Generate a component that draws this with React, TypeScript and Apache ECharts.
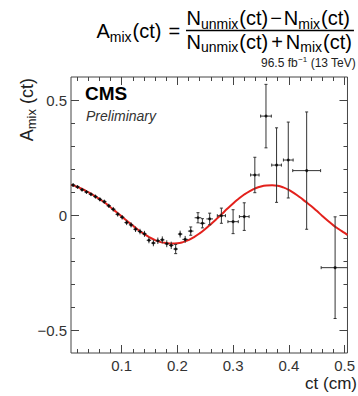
import React, { useEffect, useRef } from 'react';
import * as echarts from 'echarts';

const X_MIN = 0.0092;
const X_MAX = 0.5052;
const Y_MIN = -0.6;
const Y_MAX = 0.6;

const xMajorTicks = [0.1, 0.2, 0.3, 0.4, 0.5];
const xTickLabels = ['0.1', '0.2', '0.3', '0.4', '0.5'];
const xMinorTicks = [0.02, 0.04, 0.06, 0.08, 0.12, 0.14, 0.16, 0.18, 0.22, 0.24, 0.26, 0.28, 0.32, 0.34, 0.36, 0.38, 0.42, 0.44, 0.46, 0.48];
const yMajorTicks = [-0.5, 0, 0.5];
const yTickLabels = ['\u22120.5', '0', '0.5'];
const yMinorTicks = [-0.4, -0.3, -0.2, -0.1, 0.1, 0.2, 0.3, 0.4];

// measured asymmetry points
const ptX = [0.013, 0.021, 0.029, 0.037, 0.045, 0.053, 0.061, 0.069, 0.077, 0.085, 0.093, 0.101, 0.109, 0.117, 0.125, 0.133, 0.141, 0.149, 0.157, 0.165, 0.173, 0.181, 0.189, 0.197,
  0.205, 0.214, 0.224, 0.237, 0.245, 0.258, 0.279, 0.300, 0.320, 0.339, 0.359, 0.378, 0.399, 0.432, 0.483];
const ptY = [0.130, 0.122, 0.110, 0.100, 0.090, 0.080, 0.068, 0.058, 0.040, 0.025, 0.003, -0.010, -0.033, -0.043, -0.062, -0.072, -0.082, -0.110, -0.122, -0.112, -0.108, -0.125, -0.132, -0.148,
  -0.083, -0.106, -0.070, -0.012, -0.036, -0.017, -0.003, -0.029, -0.007, 0.174, 0.430, 0.217, 0.239, 0.193, -0.229];
const ptXErr = [0.004, 0.004, 0.004, 0.004, 0.004, 0.004, 0.004, 0.004, 0.004, 0.004, 0.004, 0.004, 0.004, 0.004, 0.004, 0.004, 0.004, 0.004, 0.004, 0.004, 0.004, 0.004, 0.004, 0.004,
  0.004, 0.005, 0.005, 0.006, 0.005, 0.006, 0.0073, 0.0093, 0.0087, 0.0076, 0.0096, 0.0087, 0.0087, 0.025, 0.025];
const ptYErr = [0.008, 0.008, 0.008, 0.008, 0.008, 0.009, 0.009, 0.009, 0.009, 0.010, 0.010, 0.010, 0.011, 0.011, 0.012, 0.012, 0.013, 0.013, 0.014, 0.014, 0.015, 0.015, 0.016, 0.020,
  0.015, 0.015, 0.018, 0.022, 0.020, 0.025, 0.033, 0.052, 0.060, 0.077, 0.138, 0.162, 0.165, 0.255, 0.221];

// fitted curve
const fitX = [0.0092, 0.02, 0.03, 0.04, 0.05, 0.06, 0.07, 0.08, 0.09, 0.10, 0.11, 0.12, 0.13, 0.14, 0.15, 0.16, 0.17, 0.18, 0.19, 0.20, 0.21, 0.22, 0.23, 0.24, 0.25, 0.26, 0.27, 0.28, 0.29, 0.30,
  0.31, 0.32, 0.33, 0.34, 0.35, 0.36, 0.37, 0.38, 0.39, 0.40, 0.41, 0.42, 0.43, 0.44, 0.45, 0.46, 0.47, 0.48, 0.49, 0.50, 0.5052];
const fitY = [0.131, 0.123, 0.112, 0.099, 0.085, 0.070, 0.053, 0.034, 0.014, -0.006, -0.026, -0.046, -0.065, -0.082, -0.097, -0.109, -0.118, -0.122, -0.124, -0.123, -0.118, -0.109, -0.096, -0.080, -0.061, -0.040, -0.018, 0.005, 0.028, 0.050,
  0.071, 0.089, 0.104, 0.116, 0.124, 0.128, 0.129, 0.127, 0.120, 0.109, 0.094, 0.077, 0.058, 0.039, 0.018, -0.004, -0.025, -0.045, -0.062, -0.078, -0.087];

const FF = '"Liberation Sans", Arial, Helvetica, sans-serif';
let mctx: CanvasRenderingContext2D | null = null;
function tw(s: string, size: number, weight = 'normal', style = 'normal') {
  if (!mctx) mctx = document.createElement('canvas').getContext('2d');
  mctx!.font = `${style} ${weight} ${size}px ${FF}`;
  return mctx!.measureText(s).width;
}
type Piece = { t: string; s: number; dy?: number; gap?: number };
function measure(pieces: Piece[]) {
  return pieces.reduce((w, p) => w + (p.gap || 0) + tw(p.t, p.s), 0);
}
function layout(pieces: Piece[], x0: number, base: number, fill = '#000') {
  let x = x0;
  const els: any[] = [];
  for (const p of pieces) {
    x += p.gap || 0;
    els.push({
      type: 'text', x, y: base + (p.dy || 0) - 0.3465 * p.s, silent: true,
      style: { text: p.t, fontSize: p.s, fontFamily: FF, fill, align: 'left', verticalAlign: 'middle' },
    });
    x += tw(p.t, p.s);
  }
  return { els, width: x - x0 };
}

function mkX(pos: string, ticks: number[], len: number, labels: boolean) {
  return {
    type: 'value', position: pos, min: X_MIN, max: X_MAX,
    axisLine: { show: false, onZero: false }, splitLine: { show: false },
    axisTick: { show: true, inside: true, length: len, customValues: ticks, lineStyle: { color: '#444', width: 1 } },
    axisLabel: labels ? {
      show: true, customValues: ticks, margin: 5, fontSize: 15, fontFamily: FF, color: '#333',
      formatter: (v: number) => { const i = xMajorTicks.findIndex((t) => Math.abs(t - v) < 1e-9); return i >= 0 ? xTickLabels[i] : ''; },
    } : { show: false },
  };
}
function mkY(pos: string, ticks: number[], len: number, labels: boolean) {
  return {
    type: 'value', position: pos, min: Y_MIN, max: Y_MAX,
    axisLine: { show: false, onZero: false }, splitLine: { show: false },
    axisTick: { show: true, inside: true, length: len, customValues: ticks, lineStyle: { color: '#444', width: 1 } },
    axisLabel: labels ? {
      show: true, customValues: ticks, margin: 4, fontSize: 15, fontFamily: FF, color: '#333',
      formatter: (v: number) => { const i = yMajorTicks.findIndex((t) => Math.abs(t - v) < 1e-9); return i >= 0 ? yTickLabels[i] : ''; },
    } : { show: false },
  };
}

export default function App() {
  const ref = useRef<HTMLDivElement>(null);
  useEffect(() => {
    if (!ref.current) return;
    const chart = echarts.init(ref.current, null, { renderer: 'svg' });

    const graphics: any[] = [];
    // Formula
    const lhs = layout([
      { t: 'A', s: 20 }, { t: 'mix', s: 14, dy: 3.5 }, { t: '(ct)', s: 20, gap: 1 }, { t: '=', s: 20, gap: 7 },
    ], 96.5, 38);
    graphics.push(...lhs.els);
    const num = layout([
      { t: 'N', s: 20 }, { t: 'unmix', s: 14, dy: 3.5 }, { t: '(ct)', s: 20, gap: 1 }, { t: '\u2212', s: 20, gap: 2 },
      { t: 'N', s: 20, gap: 2 }, { t: 'mix', s: 14, dy: 3.5 }, { t: '(ct)', s: 20, gap: 1 },
    ], 186.5, 25);
    const den = layout([
      { t: 'N', s: 20 }, { t: 'unmix', s: 14, dy: 3.5 }, { t: '(ct)', s: 20, gap: 1 }, { t: '+', s: 20, gap: 3 },
      { t: 'N', s: 20, gap: 3 }, { t: 'mix', s: 14, dy: 3.5 }, { t: '(ct)', s: 20, gap: 1 },
    ], 186.5, 48.5);
    graphics.push(...num.els, ...den.els);
    graphics.push({
      type: 'line', silent: true,
      shape: { x1: 186, y1: 30.5, x2: 186.5 + Math.max(num.width, den.width) + 2, y2: 30.5 },
      style: { stroke: '#000', lineWidth: 1.3 },
    });
    // Lumi
    const lumiPieces: Piece[] = [{ t: '96.5 fb', s: 12 }, { t: '\u22121', s: 8, dy: -5, gap: 0.5 }, { t: ' (13 TeV)', s: 12 }];
    const lw = measure(lumiPieces);
    graphics.push(...layout(lumiPieces, 356 - lw, 67, '#222').els);
    // CMS Preliminary
    graphics.push({
      type: 'text', x: 85, y: 100 - 0.3465 * 19, silent: true,
      style: { text: 'CMS', fontSize: 19, fontWeight: 'bold', fontFamily: FF, fill: '#000', align: 'left', verticalAlign: 'middle' },
    });
    graphics.push({
      type: 'text', x: 86, y: 121 - 0.3465 * 14, silent: true,
      style: { text: 'Preliminary', fontSize: 14, fontStyle: 'italic', fontFamily: FF, fill: '#333', align: 'left', verticalAlign: 'middle' },
    });
    // X axis title
    graphics.push({
      type: 'text', x: 357, y: 389 - 0.3465 * 17, silent: true,
      style: { text: 'ct (cm)', fontSize: 17, fontFamily: FF, fill: '#222', align: 'right', verticalAlign: 'middle' },
    });
    // Y axis title (rotated)
    const yt = layout([{ t: 'A', s: 18 }, { t: 'mix', s: 13, dy: 3.5 }, { t: ' (ct)', s: 18 }], 0, 0, '#222');
    graphics.push({ type: 'group', x: 33, y: 78 + yt.width, rotation: Math.PI / 2, children: yt.els });

    const pts = ptX.map((x, i) => [x, ptY[i], ptXErr[i], ptYErr[i]]);

    chart.setOption({
      animation: false,
      grid: { left: 71, top: 77, right: 3, bottom: 43, show: true, borderColor: '#444', borderWidth: 1, backgroundColor: 'transparent' },
      xAxis: [
        mkX('bottom', xMajorTicks, 8, true),
        mkX('bottom', xMinorTicks, 4, false),
        mkX('top', xMajorTicks, 8, false),
        mkX('top', xMinorTicks, 4, false),
      ],
      yAxis: [
        mkY('left', yMajorTicks, 8, true),
        mkY('left', yMinorTicks, 4, false),
        mkY('right', yMajorTicks, 8, false),
        mkY('right', yMinorTicks, 4, false),
      ],
      series: [
        {
          type: 'line', xAxisIndex: 0, yAxisIndex: 0, data: fitX.map((x, i) => [x, fitY[i]]),
          smooth: true, showSymbol: false, symbol: 'none', lineStyle: { color: '#e3211c', width: 2 }, z: 2, silent: true,
        },
        {
          type: 'custom', xAxisIndex: 0, yAxisIndex: 0, data: pts, encode: { x: 0, y: 1 }, z: 3, silent: true,
          renderItem: (_p: any, api: any) => {
            const x = api.value(0), y = api.value(1), ex = api.value(2), ey = api.value(3);
            const l = api.coord([Math.max(x - ex, X_MIN), y]);
            const r = api.coord([Math.min(x + ex, X_MAX), y]);
            const t = api.coord([x, Math.min(y + ey, Y_MAX)]);
            const b = api.coord([x, Math.max(y - ey, Y_MIN)]);
            const st = { stroke: '#333', lineWidth: 1 };
            const ch: any[] = [
              { type: 'line', shape: { x1: l[0], y1: l[1], x2: r[0], y2: r[1] }, style: st },
              { type: 'line', shape: { x1: t[0], y1: t[1], x2: b[0], y2: b[1] }, style: st },
            ];
            const c = 1.5;
            if (b[1] - t[1] > 8) {
              ch.push({ type: 'line', shape: { x1: t[0] - c, y1: t[1], x2: t[0] + c, y2: t[1] }, style: st });
              ch.push({ type: 'line', shape: { x1: b[0] - c, y1: b[1], x2: b[0] + c, y2: b[1] }, style: st });
            }
            if (r[0] - l[0] > 8) {
              ch.push({ type: 'line', shape: { x1: l[0], y1: l[1] - c, x2: l[0], y2: l[1] + c }, style: st });
              if (x + ex <= X_MAX) ch.push({ type: 'line', shape: { x1: r[0], y1: r[1] - c, x2: r[0], y2: r[1] + c }, style: st });
            }
            return { type: 'group', children: ch };
          },
        },
        {
          type: 'scatter', xAxisIndex: 0, yAxisIndex: 0, data: pts.map((p) => [p[0], p[1]]),
          symbol: 'circle', symbolSize: 3, itemStyle: { color: '#000' }, z: 4, silent: true,
        },
      ],
      graphic: graphics,
    });
    return () => chart.dispose();
  }, []);
  return <div ref={ref} style={{ position: 'fixed', left: 0, top: 0, width: 358, height: 396, background: '#fff' }} />;
}
